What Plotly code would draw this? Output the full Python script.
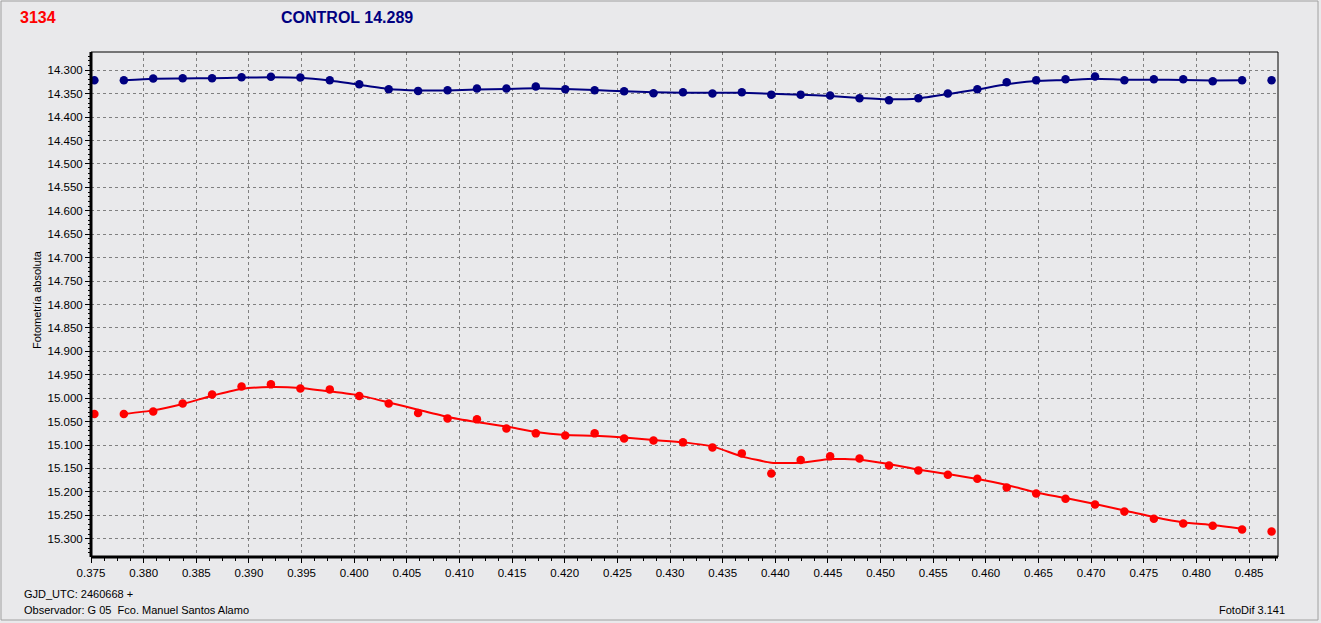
import plotly.graph_objects as go

# Time (GJD_UTC fraction, + 2460668)
gjd = [0.37532, 0.37812, 0.38091, 0.38371, 0.38650, 0.38930, 0.39209, 0.39489, 0.39768, 0.40048,
       0.40328, 0.40607, 0.40887, 0.41166, 0.41446, 0.41725, 0.42005, 0.42284, 0.42564, 0.42843,
       0.43123, 0.43403, 0.43682, 0.43962, 0.44241, 0.44521, 0.44800, 0.45080, 0.45359, 0.45639,
       0.45919, 0.46198, 0.46478, 0.46757, 0.47037, 0.47316, 0.47596, 0.47875, 0.48155, 0.48434,
       0.48714]

# Control star photometry (points)
control_mag = [14.3214, 14.3214, 14.3177, 14.3170, 14.3170, 14.3150, 14.3140, 14.3156, 14.3214, 14.3300,
               14.3406, 14.3440, 14.3427, 14.3390, 14.3390, 14.3348, 14.3406, 14.3427, 14.3448, 14.3490,
               14.3470, 14.3498, 14.3470, 14.3520, 14.3520, 14.3540, 14.3598, 14.3640, 14.3598, 14.3498,
               14.3406, 14.3256, 14.3214, 14.3192, 14.3135, 14.3214, 14.3192, 14.3192, 14.3235, 14.3214,
               14.3214]

# Control star smoothed trend (points 2..40)
control_trend = [14.3214, 14.3180, 14.3175, 14.3170, 14.3155, 14.3150, 14.3160, 14.3220, 14.3310,
                 14.3400, 14.3430, 14.3430, 14.3410, 14.3400, 14.3385, 14.3400, 14.3420, 14.3450, 14.3470,
                 14.3480, 14.3480, 14.3480, 14.3500, 14.3520, 14.3550, 14.3590, 14.3620, 14.3600, 14.3510,
                 14.3410, 14.3300, 14.3230, 14.3210, 14.3180, 14.3200, 14.3200, 14.3210, 14.3220, 14.3214]

# Target 3134 photometry (points)
target_mag = [15.0337, 15.0337, 15.0282, 15.0111, 14.9919, 14.9748, 14.9705, 14.9791, 14.9812, 14.9953,
              15.0111, 15.0316, 15.0431, 15.0452, 15.0645, 15.0751, 15.0794, 15.0751, 15.0858, 15.0901,
              15.0943, 15.1050, 15.1178, 15.1606, 15.1319, 15.1242, 15.1285, 15.1435, 15.1541, 15.1633,
              15.1719, 15.1904, 15.2033, 15.2146, 15.2268, 15.2417, 15.2573, 15.2673, 15.2722, 15.2801,
              15.2844]

# Target smoothed trend (points 2..40)
target_trend = [15.0337, 15.0260, 15.0124, 14.9946, 14.9803, 14.9760, 14.9780, 14.9855, 14.9940,
                15.0090, 15.0245, 15.0400, 15.0508, 15.0602, 15.0722, 15.0786, 15.0800, 15.0837, 15.0893,
                15.0943, 15.1029, 15.1242, 15.1377, 15.1377, 15.1298, 15.1313, 15.1405, 15.1527, 15.1618,
                15.1725, 15.1853, 15.2011, 15.2131, 15.2259, 15.2396, 15.2537, 15.2652, 15.2708, 15.2787]

NAVY = "#000080"
RED = "#ff0000"
BG = "#e9e9eb"
FONT = "Liberation Sans"

fig = go.Figure()
fig.add_trace(go.Scatter(x=gjd[1:40], y=control_trend, mode="lines",
                         line=dict(color=NAVY, width=2, shape="spline", smoothing=0.5),
                         hoverinfo="skip"))
fig.add_trace(go.Scatter(x=gjd, y=control_mag, mode="markers",
                         marker=dict(color=NAVY, size=8.5, symbol="circle")))
fig.add_trace(go.Scatter(x=gjd[1:40], y=target_trend, mode="lines",
                         line=dict(color=RED, width=2, shape="spline", smoothing=0.5),
                         hoverinfo="skip"))
fig.add_trace(go.Scatter(x=gjd, y=target_mag, mode="markers",
                         marker=dict(color=RED, size=8.5, symbol="circle")))

L, R, T, B = 91, 43, 52, 66
W, H = 1321, 623
pw, ph = W - L - R, H - T - B

def px(x):
    return (x - L) / pw

def py(y):
    return (H - B - y) / ph

shapes = [
    # outer window border
    dict(type="rect", xref="paper", yref="paper", x0=px(1), x1=px(1318), y0=py(1), y1=py(620),
         line=dict(color="#a0a0a0", width=1), fillcolor="rgba(0,0,0,0)", layer="below"),
    # plot frame
    dict(type="rect", xref="paper", yref="paper", x0=0, x1=1, y0=0, y1=1,
         line=dict(color="black", width=1), fillcolor="rgba(0,0,0,0)"),
    # thick left and bottom axes
    dict(type="line", xref="paper", yref="paper", x0=0, x1=0, y0=0, y1=1,
         line=dict(color="black", width=3)),
    dict(type="line", xref="paper", yref="paper", x0=0, x1=1, y0=0, y1=0,
         line=dict(color="black", width=3)),
]

annotations = [
    dict(text="<b>3134</b>", xref="paper", yref="paper", x=px(18), y=py(18), xanchor="left",
         yanchor="middle", showarrow=False, font=dict(family=FONT, size=16, color=RED)),
    dict(text="<b>CONTROL 14.289</b>", xref="paper", yref="paper", x=px(279), y=py(18), xanchor="left",
         yanchor="middle", showarrow=False, font=dict(family=FONT, size=16, color=NAVY)),
    dict(text="GJD_UTC: 2460668 +", xref="paper", yref="paper", x=px(22), y=py(594), xanchor="left",
         yanchor="middle", showarrow=False, font=dict(family=FONT, size=11, color="#000000")),
    dict(text="Observador: G 05  Fco. Manuel Santos Alamo", xref="paper", yref="paper", x=px(22),
         y=py(610), xanchor="left", yanchor="middle", showarrow=False,
         font=dict(family=FONT, size=11, color="#000000")),
    dict(text="FotoDif 3.141", xref="paper", yref="paper", x=px(1287), y=py(610), xanchor="right",
         yanchor="middle", showarrow=False, font=dict(family=FONT, size=11, color="#000000")),
    dict(text="Fotometría absoluta", xref="paper", yref="paper", x=px(37), y=py(300), xanchor="center",
         yanchor="middle", textangle=-90, showarrow=False,
         font=dict(family=FONT, size=11, color="#000000")),
]

fig.update_layout(
    width=W, height=H,
    margin=dict(l=L, r=R, t=T, b=B),
    paper_bgcolor=BG, plot_bgcolor=BG,
    showlegend=False,
    shapes=shapes,
    annotations=annotations,
    font=dict(family=FONT, size=11, color="#000000"),
    xaxis=dict(range=[0.375, 0.48775], tick0=0.375, dtick=0.005, tickformat=".3f",
               showgrid=True, gridcolor="#808080", griddash="3px,3px", gridwidth=1,
               zeroline=False, showline=False, ticks="outside", ticklen=5, tickcolor="black",
               tickfont=dict(family=FONT, size=11.5, color="#000000"),
               minor=dict(dtick=0.00125, tick0=0.375, ticks="outside", ticklen=3, tickcolor="black",
                          showgrid=False)),
    yaxis=dict(range=[15.339, 14.261], tick0=14.3, dtick=0.05, tickformat=".3f",
               showgrid=True, gridcolor="#808080", griddash="3px,3px", gridwidth=1,
               zeroline=False, showline=False, ticks="outside", ticklen=5, tickcolor="black",
               tickfont=dict(family=FONT, size=11.5, color="#000000"),
               minor=dict(dtick=0.01, tick0=14.3, ticks="outside", ticklen=2, tickcolor="black",
                          showgrid=False)),
)

fig.write_html("out.html", config={"displayModeBar": False},
               post_script="document.body.style.margin='0';document.body.style.padding='0';")
